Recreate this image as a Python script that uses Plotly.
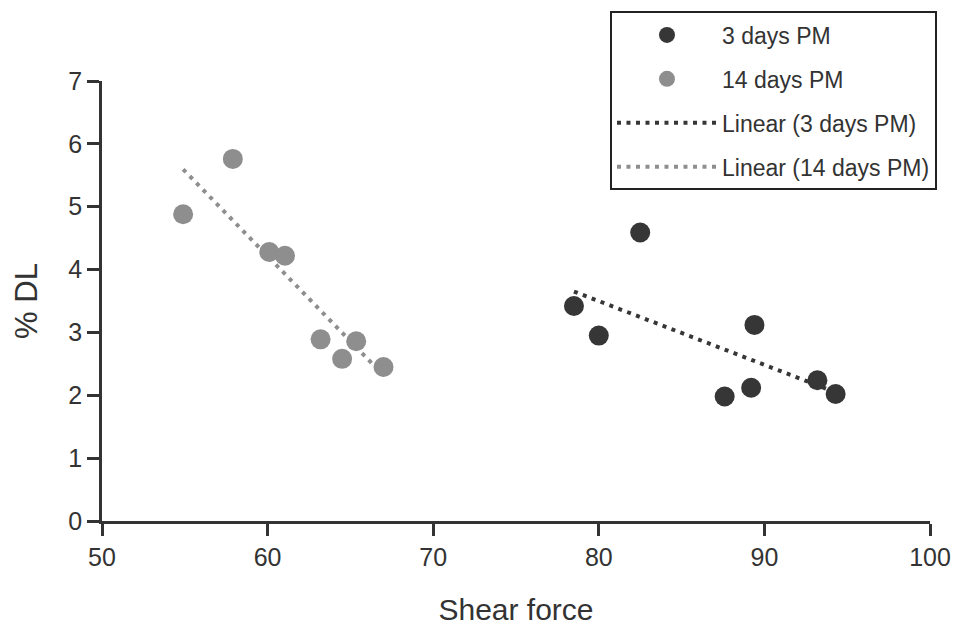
import numpy as np
import plotly.graph_objects as go

# Data
x_3d = [82.5, 78.5, 80.0, 89.4, 87.6, 89.2, 93.2, 94.3]
y_3d = [4.59, 3.42, 2.95, 3.12, 1.98, 2.12, 2.24, 2.02]
x_14d = [54.9, 57.9, 60.1, 61.05, 63.2, 64.5, 65.35, 67.0]
y_14d = [4.88, 5.76, 4.28, 4.22, 2.89, 2.58, 2.86, 2.45]

names = ["3 days PM", "14 days PM", "Linear (3 days PM)", "Linear (14 days PM)"]
x_ticks = [50, 60, 70, 80, 90, 100]
y_ticks = [0, 1, 2, 3, 4, 5, 6, 7]

dark = "#363636"
grey = "#8e8e8e"
axis_col = "#333333"
font_family = "Liberation Sans, Arial, sans-serif"


def trend(xs, ys):
    k, b = np.polyfit(xs, ys, 1)
    xe = np.array([min(xs), max(xs)])
    return xe, k * xe + b


fig = go.Figure()
tx, ty = trend(x_3d, y_3d)
fig.add_trace(go.Scatter(x=tx, y=ty, mode="lines", name=names[2], legendrank=3,
                         line=dict(color=dark, width=4, dash="4px,5.5px"), legendgroup="c"))
tx, ty = trend(x_14d, y_14d)
fig.add_trace(go.Scatter(x=tx, y=ty, mode="lines", name=names[3], legendrank=4,
                         line=dict(color=grey, width=4, dash="4px,5.5px"), legendgroup="d"))
fig.add_trace(go.Scatter(x=x_3d, y=y_3d, mode="markers", name=names[0], legendrank=1,
                         marker=dict(color=dark, size=20), legendgroup="a"))
fig.add_trace(go.Scatter(x=x_14d, y=y_14d, mode="markers", name=names[1], legendrank=2,
                         marker=dict(color=grey, size=20), legendgroup="b"))

fig.update_layout(
    width=958, height=626,
    margin=dict(l=102, r=28, t=78, b=105),
    paper_bgcolor="white", plot_bgcolor="white",
    font=dict(family=font_family, size=25, color=axis_col),
    showlegend=True,
    legend=dict(
        x=0.6135, y=1.158, xanchor="left", yanchor="top",
        bgcolor="white", bordercolor="#222222", borderwidth=2,
        font=dict(size=23, color=axis_col),
        tracegroupgap=11, itemwidth=100,
        entrywidth=266, entrywidthmode="pixels",
        traceorder="grouped",
    ),
    xaxis=dict(
        range=[50, 100], tickvals=x_ticks, ticktext=[str(v) for v in x_ticks],
        showgrid=False, zeroline=False, showline=True, linecolor=axis_col, linewidth=2.5,
        ticks="outside", ticklen=12, tickwidth=2.5, tickcolor=axis_col,
        title=dict(text="Shear force", font=dict(size=30), standoff=30),
        tickfont=dict(size=25), automargin=False,
    ),
    yaxis=dict(
        range=[0, 7], tickvals=y_ticks, ticktext=[str(v) for v in y_ticks],
        showgrid=False, zeroline=False, showline=True, linecolor=axis_col, linewidth=2.5,
        ticks="outside", ticklen=12, tickwidth=2.5, tickcolor=axis_col,
        title=dict(text="% DL", font=dict(size=31), standoff=22),
        tickfont=dict(size=25), automargin=False,
    ),
)

fig.write_html("out.html")
